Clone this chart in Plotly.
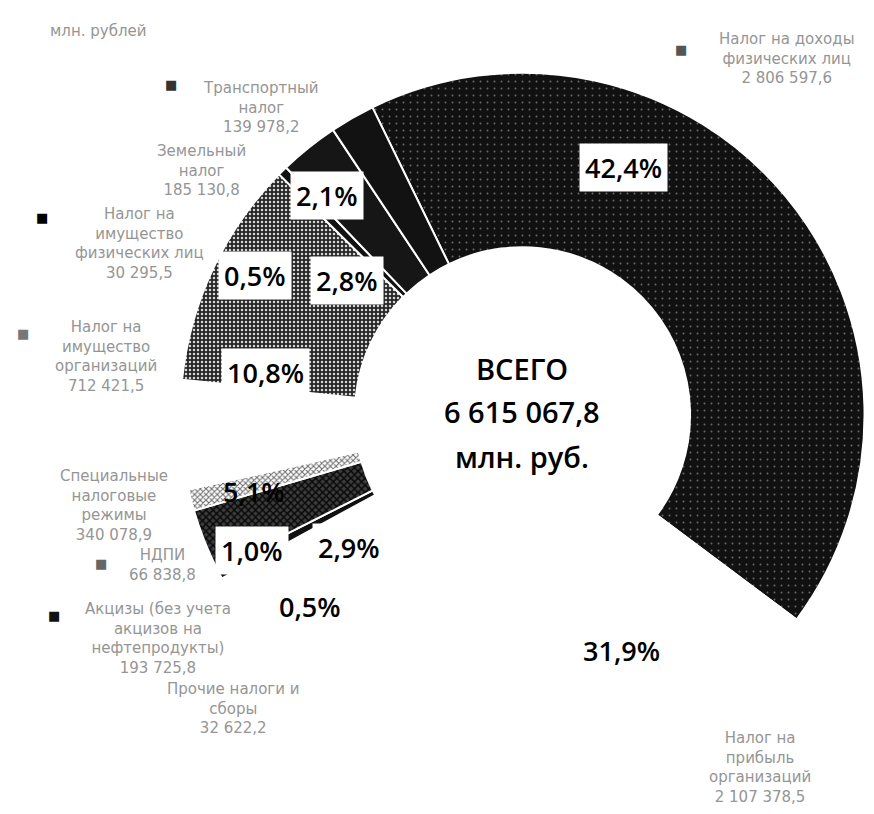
import plotly.graph_objects as go

# ---------------- data ----------------
names = [
    "Налог на доходы физических лиц",
    "Налог на прибыль организаций",
    "Прочие налоги и сборы",
    "Акцизы (без учета акцизов на нефтепродукты)",
    "НДПИ",
    "Специальные налоговые режимы",
    "Налог на имущество организаций",
    "Налог на имущество физических лиц",
    "Земельный налог",
    "Транспортный налог",
]
name_lines = [
    ["Налог на доходы", "физических лиц"],
    ["Налог на", "прибыль", "организаций"],
    ["Прочие налоги и", "сборы"],
    ["Акцизы (без учета", "акцизов на", "нефтепродукты)"],
    ["НДПИ"],
    ["Специальные", "налоговые", "режимы"],
    ["Налог на", "имущество", "организаций"],
    ["Налог на", "имущество", "физических лиц"],
    ["Земельный", "налог"],
    ["Транспортный", "налог"],
]
values = [2806597.6, 2107378.5, 32622.2, 193725.8, 66838.8,
          340078.9, 712421.5, 30295.5, 185130.8, 139978.2]
unit_note = "млн. рублей"
center_title = "ВСЕГО"
center_unit = "млн. руб."

total = sum(values)


def ru(v):
    return f"{v:,.1f}".replace(",", " ").replace(".", ",")


def pct(v):
    return f"{v / total * 100:.1f}".replace(".", ",") + "%"


# ---------------- style / layout ----------------
W, H = 874, 814
cx, cy, R = 524, 415, 349

colors = ["#111111", "#ffffff", "#111111", "#3c3c3c", "#ffffff",
          "#ffffff", "#262626", "#111111", "#161616", "#121212"]
shapes = [".", "", "", "x", "x", "", ".", "", "", ""]
fgcol = ["#6a6a6a", "#000", "#000", "#0a0a0a", "#6a6a6a",
         "#000", "#d6d6d6", "#000", "#000", "#000"]
psize = [7, 8, 8, 5, 4, 8, 4, 8, 8, 8]
psol = [0.06, 0.3, 0.3, 0.5, 0.45, 0.3, 0.3, 0.3, 0.3, 0.3]

fig = go.Figure()
fig.add_trace(go.Pie(
    values=values, labels=names, sort=False, direction="clockwise",
    rotation=-26, hole=0.49, textinfo="none", hoverinfo="skip",
    showlegend=False,
    domain=dict(x=[(cx - R) / W, (cx + R) / W],
                y=[1 - (cy + R) / H, 1 - (cy - R) / H]),
    marker=dict(colors=colors, line=dict(color="white", width=2),
                pattern=dict(shape=shapes, fgcolor=fgcol, bgcolor=colors,
                             size=psize, solidity=psol)),
))

ann = []


def px(x, y):
    return x / W, 1 - y / H


# percentage labels (positions in px)
pct_pos = [(627, 163), (625, 655), (308, 610), (347, 550), (249, 553),
           (251, 493), (262, 372), (252, 273), (345, 278), (325, 191)]
boxed = [True, False, True, True, True, False, True, True, True, True]
for i, (x, y) in enumerate(pct_pos):
    xp, yp = px(x, y)
    ann.append(dict(x=xp, y=yp, xref="paper", yref="paper", showarrow=False,
                    text=pct(values[i]),
                    font=dict(family="Open Sans", size=27, color="#000", weight=600),
                    bgcolor="white" if boxed[i] else "rgba(0,0,0,0)",
                    borderpad=5, xanchor="center", yanchor="middle"))

# category labels (block center in px)
lab_pos = [(793, 52), (766, 775), (230, 715), (153, 643), (157, 568),
           (108, 507), (100, 355), (134, 240), (197, 166), (258, 101)]
for i, (x, y) in enumerate(lab_pos):
    xp, yp = px(x, y)
    txt = "<br>".join(name_lines[i] + [ru(values[i])])
    ann.append(dict(x=xp, y=yp, xref="paper", yref="paper", showarrow=False,
                    text=txt, align="center",
                    font=dict(family="DejaVu Sans", size=15, color="#959595"),
                    xanchor="center", yanchor="middle"))

# small legend-style markers
mk_pos = [(686, 42, "#555"), (166, 78, "#333"), (35, 214, "#000"),
          (15, 332, "#777"), (95, 567, "#666"), (47, 620, "#111")]
for x, y, c in mk_pos:
    xp, yp = px(x, y)
    ann.append(dict(x=xp, y=yp, xref="paper", yref="paper", showarrow=False,
                    text="■", font=dict(family="DejaVu Sans", size=13, color=c),
                    xanchor="center", yanchor="middle"))

# unit note
xp, yp = px(92, 23)
ann.append(dict(x=xp, y=yp, xref="paper", yref="paper", showarrow=False,
                text=unit_note,
                font=dict(family="DejaVu Sans", size=15, color="#959595"),
                xanchor="center", yanchor="middle"))

# center text
for t, y in [(center_title, 368), (ru(total), 412), (center_unit, 457)]:
    xp, yp = px(cx, y)
    ann.append(dict(x=xp, y=yp, xref="paper", yref="paper", showarrow=False,
                    text=t,
                    font=dict(family="Open Sans", size=29, color="#000", weight=600),
                    xanchor="center", yanchor="middle"))

fig.update_layout(
    margin=dict(l=0, r=0, t=0, b=0),
    paper_bgcolor="white", plot_bgcolor="white",
    annotations=ann,
)

fig.write_html("out.html")
